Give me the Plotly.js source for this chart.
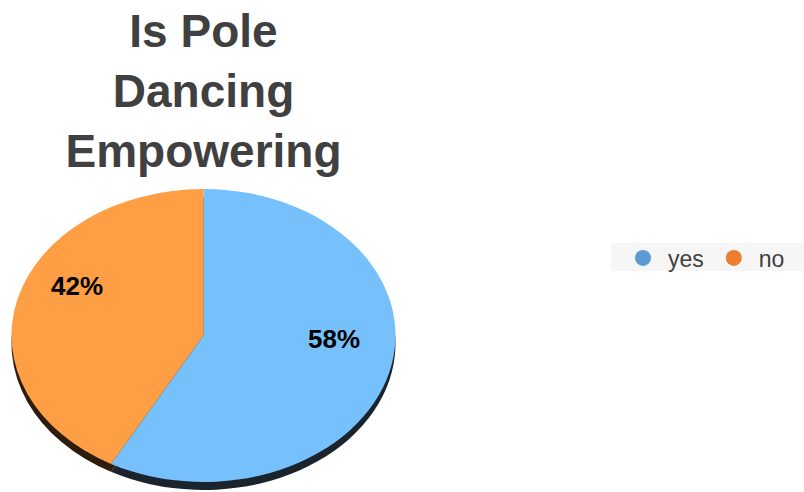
<!DOCTYPE html>
<html>
<head>
<meta charset="utf-8">
<script src="https://cdn.plot.ly/plotly-3.0.1.min.js"></script>
<style>
  html, body { margin: 0; padding: 0; background: #ffffff; }
  #chart { width: 804px; height: 492px; }
  /* tilt the pie into a flattened disc */
  #chart .pielayer {
    transform-origin: 0 0;
    transform: matrix(1, 0, 0, 0.763, 0, 151.8);
  }
</style>
</head>
<body>
<div id="chart"></div>
<script>
// answers to the survey question
const labels = ['yes', 'no'];
const values = [58, 42];

const titleLines = ['Is Pole', 'Dancing', 'Empowering'];

const faceColors = ['#76C1FC', '#FE9E45'];   // top face of the disc
const rimColors = ['#1B242D', '#2E1C0C'];    // dark edge under the disc
const legendColors = ['#5B9BD5', '#ED7D31'];

const total = values.reduce((a, b) => a + b, 0);
const percentText = values.map(v => Math.round(v / total * 100) + '%');

const pieX = [11.5 / 804, 395.5 / 804];

const rim = {
  type: 'pie',
  labels: labels,
  values: values,
  sort: false,
  direction: 'clockwise',
  rotation: 0,
  marker: { colors: rimColors, line: { width: 0 } },
  textinfo: 'none',
  hoverinfo: 'skip',
  showlegend: false,
  domain: { x: pieX, y: [0, 0.9787] }
};

const face = {
  type: 'pie',
  labels: labels,
  values: values,
  sort: false,
  direction: 'clockwise',
  rotation: 0,
  marker: { colors: faceColors, line: { width: 0 } },
  textinfo: 'none',
  hoverinfo: 'label+percent',
  showlegend: false,
  domain: { x: pieX, y: [0.0213, 1] }
};

// legend entries with round markers
const legendTraces = labels.map((lab, i) => ({
  type: 'scatter',
  mode: 'markers',
  x: [null],
  y: [null],
  name: lab,
  marker: { color: legendColors[i], size: 16, symbol: 'circle' },
  showlegend: true,
  hoverinfo: 'skip'
}));

// percentage labels sitting on each slice
const labelPos = [[0.4154, 0.311], [0.0958, 0.4187]];
const annotations = percentText.map((t, i) => ({
  text: t,
  x: labelPos[i][0],
  y: labelPos[i][1],
  xref: 'paper',
  yref: 'paper',
  xanchor: 'center',
  yanchor: 'middle',
  showarrow: false,
  font: { family: 'Liberation Sans, Arial, sans-serif', size: 26, color: '#000000', weight: 'bold' }
}));

const layout = {
  width: 804,
  height: 492,
  margin: { l: 0, r: 0, t: 0, b: 0 },
  paper_bgcolor: '#ffffff',
  plot_bgcolor: 'rgba(0,0,0,0)',
  title: {
    text: titleLines.join('<br>'),
    x: 203.5 / 804,
    xanchor: 'center',
    xref: 'paper',
    y: 1,
    yref: 'paper',
    yanchor: 'top',
    pad: { t: 47 },
    font: { family: 'Liberation Sans, Arial, sans-serif', size: 46, color: '#404040', weight: 'bold' }
  },
  xaxis: { visible: false },
  yaxis: { visible: false },
  showlegend: true,
  legend: {
    orientation: 'h',
    x: 618 / 804,
    xanchor: 'left',
    y: 1 - 258 / 492,
    yanchor: 'middle',
    bgcolor: 'rgba(0,0,0,0)',
    borderwidth: 0,
    itemwidth: 40,
    font: { family: 'Liberation Sans, Arial, sans-serif', size: 23, color: '#404040' },
    itemsizing: 'trace'
  },
  // pale band behind the legend
  shapes: [{
    type: 'rect',
    xref: 'paper',
    yref: 'paper',
    x0: 611 / 804,
    x1: 1,
    y0: 1 - 271 / 492,
    y1: 1 - 243 / 492,
    fillcolor: '#F6F6F6',
    line: { width: 0 },
    layer: 'below'
  }],
  annotations: annotations
};

Plotly.newPlot('chart', [rim, face].concat(legendTraces), layout, { displayModeBar: false, staticPlot: true });
</script>
</body>
</html>
